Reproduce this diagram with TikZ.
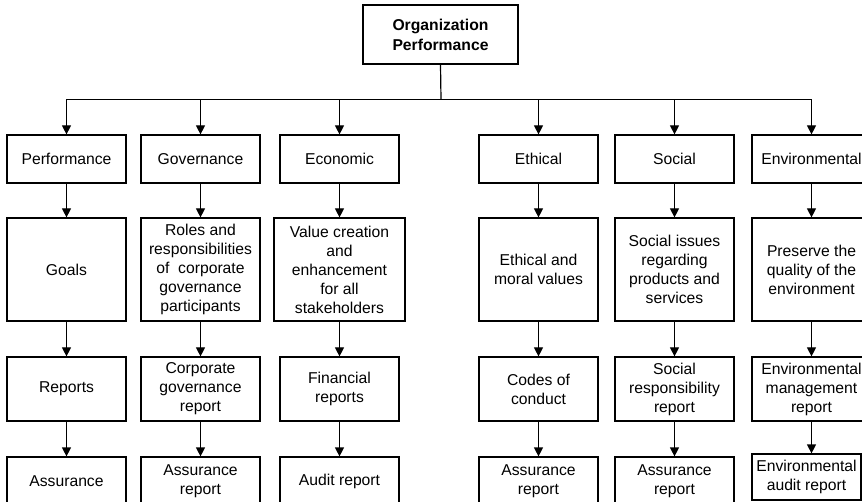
\documentclass[tikz,border=0pt]{standalone}
\usepackage{fontspec}
\setmainfont{Liberation Sans}
\usetikzlibrary{arrows.meta}
\tikzset{
  box/.style={draw, line width=1.2pt, align=center, inner sep=0pt,
    minimum width=119pt, font=\fontsize{15.7}{19}\selectfont},
  arr/.style={-{Triangle[width=9pt,length=9pt]}, line width=1.2pt}
}
\begin{document}
\begin{tikzpicture}[x=1pt,y=-1pt]
\clip (0,0) rectangle (862,502);
\fill[white] (0,0) rectangle (862,502);
% top box
\node[box, minimum width=155pt, minimum height=59pt, font=\fontsize{15.7}{20}\selectfont\bfseries]
  (org) at (440.5,34.5) {Organization\\Performance};
\coordinate (bus) at (441,99.5);
% first row
\node[box, minimum height=48pt] (perf) at (66.5,159) {Performance};
\node[box, minimum height=48pt] (gov)  at (200.5,159) {Governance};
\node[box, minimum height=48pt] (econ) at (339.5,159) {Economic};
\node[box, minimum height=48pt] (eth)  at (538.5,159) {Ethical};
\node[box, minimum height=48pt] (soc)  at (674.5,159) {Social};
\node[box, minimum height=48pt] (env)  at (811.5,159) {Environmental};
% second row
\node[box, minimum height=103pt] (goals)    at (66.5,269.5) {Goals};
\node[box, minimum height=103pt] (roles)    at (200.5,269.5) {Roles and\\responsibilities\\of \ corporate\\governance\\participants};
\node[box, minimum height=103pt, minimum width=131pt] (value) at (339.5,269.5) {Value creation\\and\\enhancement\\for all\\stakeholders};
\node[box, minimum height=103pt] (moral)    at (538.5,269.5) {Ethical and\\moral values};
\node[box, minimum height=103pt] (issues)   at (674.5,269.5) {Social issues\\regarding\\products and\\services};
\node[box, minimum height=103pt] (preserve) at (811.5,269.5) {Preserve the\\quality of the\\environment};
% third row
\node[box, minimum height=64pt] (reports) at (66.5,389) {Reports};
\node[box, minimum height=64pt] (cgrep)   at (200.5,389) {Corporate\\governance\\report};
\node[box, minimum height=64pt] (finrep)  at (339.5,389) {Financial\\reports};
\node[box, minimum height=64pt] (codes)   at (538.5,389) {Codes of\\conduct};
\node[box, minimum height=64pt] (srrep)   at (674.5,389) {Social\\responsibility\\report};
\node[box, minimum height=64pt] (emrep)   at (811.5,389) {Environmental\\management\\report};
% fourth row
\node[box, minimum height=48pt] (perfass) at (66.5,481) {Assurance};
\node[box, minimum height=48pt] (govass)  at (200.5,481) {Assurance\\report};
\node[box, minimum height=48pt] (audit)   at (339.5,481) {Audit report};
\node[box, minimum height=48pt] (ethass)  at (538.5,481) {Assurance\\report};
\node[box, minimum height=48pt] (socass)  at (674.5,481) {Assurance\\report};
\node[box, minimum height=46pt, minimum width=109pt] (envaud) at (806.5,477) {Environmental\\audit report};
% connectors
\draw[line width=1.2pt] (org.south) -- (bus);
\draw[line width=1.2pt] (perf.north |- bus) -- (env.north |- bus);
\foreach \n in {perf,gov,econ,eth,soc,env}
  \draw[arr] (\n.north |- bus) -- (\n.north);
\foreach \a/\b in {perf/goals,gov/roles,econ/value,eth/moral,soc/issues,env/preserve,
    goals/reports,roles/cgrep,value/finrep,moral/codes,issues/srrep,preserve/emrep,
    reports/perfass,cgrep/govass,finrep/audit,codes/ethass,srrep/socass}
  \draw[arr] (\a.south) -- (\b.north);
\draw[arr] (emrep.south) -- (emrep.south |- envaud.north);
\end{tikzpicture}
\end{document}
